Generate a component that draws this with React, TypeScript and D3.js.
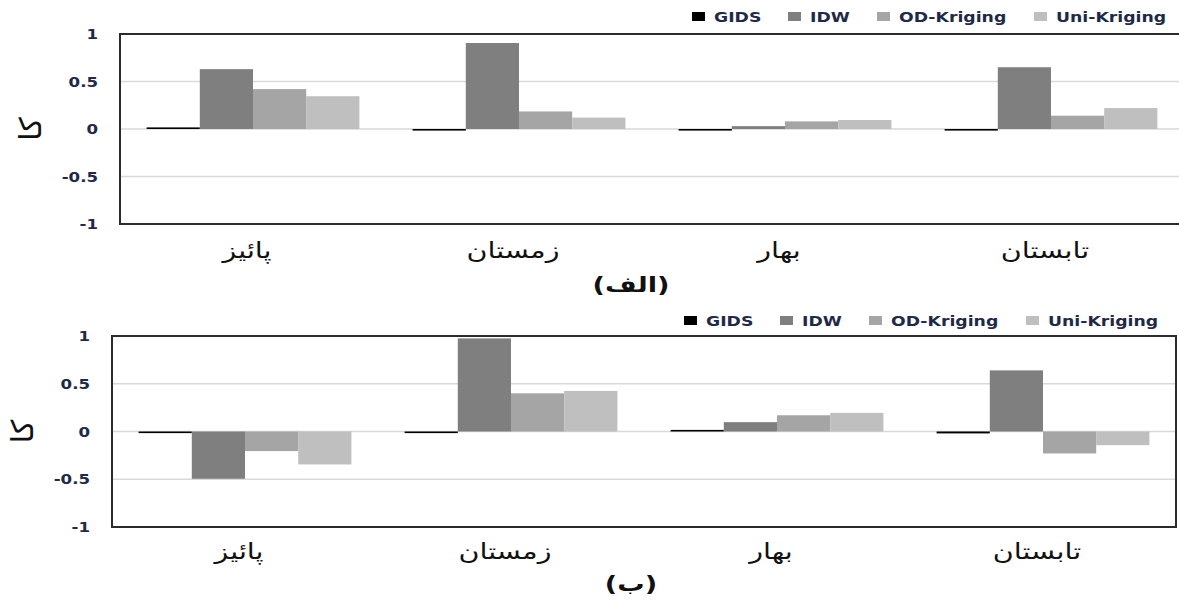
import * as d3 from 'd3';

// seasons (x categories) and the four methods
const seasons = ['پائیز', 'زمستان', 'بهار', 'تابستان'];
const methods = ['GIDS', 'IDW', 'OD-Kriging', 'Uni-Kriging'];
const methodColors = ['#000000', '#7f7f7f', '#a5a5a5', '#bfbfbf'];
const yTicks = [1, 0.5, 0, -0.5, -1];
const yTickLabels = ['1', '0.5', '0', '-0.5', '-1'];

// panel (الف)
const gidsA = [0.014, -0.01, -0.01, -0.006];
const idwA = [0.63, 0.905, 0.03, 0.65];
const odA = [0.42, 0.185, 0.08, 0.14];
const uniA = [0.345, 0.12, 0.095, 0.22];

// panel (ب)
const gidsB = [-0.01, -0.01, 0.006, -0.02];
const idwB = [-0.495, 0.975, 0.098, 0.64];
const odB = [-0.205, 0.4, 0.17, -0.23];
const uniB = [-0.345, 0.425, 0.195, -0.143];

const W = 1179;
const H = 603;
const NAVY = '#1f2a48';
const LATIN = '"DejaVu Sans", Verdana, sans-serif';
const FA = '"DejaVu Sans", sans-serif';
const SX = 1.28; // the original is stretched sideways

type PanelProps = {
  series: number[][];
  left: number;
  top: number;
  bottom: number;
  caption: string;
  captionY: number;
  legendY: number;
  labelGap: number;
};

const legendOffsets = [0, 96, 185, 342];

function Panel({ series, left, top, bottom, caption, captionY, legendY, labelGap }: PanelProps) {
  const band = 266;
  const right = left + band * seasons.length;
  const x = d3.scaleBand<string>().domain(seasons).range([left, right]).paddingInner(0.2).paddingOuter(0.1);
  const xInner = d3.scaleBand<string>().domain(methods).range([0, x.bandwidth()]).padding(0);
  const y = d3.scaleLinear().domain([-1, 1]).range([bottom, top]);
  const legendX = left + 572;

  return (
    <g>
      {/* grid */}
      {yTicks.filter(t => Math.abs(t) < 1).map(t => (
        <line key={t} x1={left} x2={right} y1={y(t)} y2={y(t)} stroke="#d9d9d9" strokeWidth={1.5} />
      ))}
      {/* bars */}
      {methods.map((m, mi) => (
        <g key={m}>
          {series[mi].map((v, si) => {
            const x0 = (x(seasons[si]) ?? 0) + (xInner(m) ?? 0);
            const raw = Math.abs(y(v) - y(0));
            const h = Math.max(raw, 1.6);
            const yTop = v >= 0 ? y(0) - h : y(0);
            return <rect key={si} x={x0} y={yTop} width={xInner.bandwidth()} height={h} fill={methodColors[mi]} />;
          })}
        </g>
      ))}
      {/* frame */}
      <rect x={left} y={top} width={right - left} height={bottom - top} fill="none" stroke="#2b2b2b" strokeWidth={2} />
      {/* y tick labels */}
      {yTicks.map((t, i) => (
        <text key={t} transform={`translate(${left - 22},${y(t) + 5}) scale(${SX - 0.05},1)`} textAnchor="end"
          fontFamily={LATIN} fontWeight="bold" fontSize={13.5} fill={NAVY}>{yTickLabels[i]}</text>
      ))}
      {/* y axis title */}
      <text transform={`translate(${left - 90},${y(0)}) rotate(-90)`} textAnchor="middle" dominantBaseline="central"
        fontFamily={FA} fontSize={30} fill="#111">کا</text>
      {/* category labels */}
      {seasons.map(s => (
        <text key={s} transform={`translate(${(x(s) ?? 0) + x.bandwidth() / 2 - 6},${bottom + labelGap}) scale(1.3,1)`}
          textAnchor="middle" fontFamily={FA} fontSize={22} fill="#111" direction="rtl">{s}</text>
      ))}
      {/* caption */}
      <text transform={`translate(631,${captionY}) scale(1.3,1)`} textAnchor="middle" fontFamily={FA} fontWeight="bold"
        fontSize={21} fill="#111" direction="rtl">{caption}</text>
      {/* legend */}
      {methods.map((m, i) => (
        <g key={m} transform={`translate(${legendX + legendOffsets[i]},${legendY})`}>
          <rect x={0} y={-5} width={13} height={9} fill={methodColors[i]} />
          <text transform={`translate(22,5) scale(${SX},1)`} fontFamily={LATIN} fontWeight="bold" fontSize={13.5} fill={NAVY}>{m}</text>
        </g>
      ))}
    </g>
  );
}

export default function App() {
  return (
    <svg width={W} height={H} style={{ position: 'absolute', left: 0, top: 0, background: '#fff' }}>
      <rect width={W} height={H} fill="#fff" />
      <Panel series={[gidsA, idwA, odA, uniA]} left={120} top={34} bottom={224} caption="(الف)" captionY={292} legendY={17} labelGap={34} />
      <Panel series={[gidsB, idwB, odB, uniB]} left={112} top={336} bottom={527} caption="(ب)" captionY={591} legendY={321} labelGap={32} />
    </svg>
  );
}
